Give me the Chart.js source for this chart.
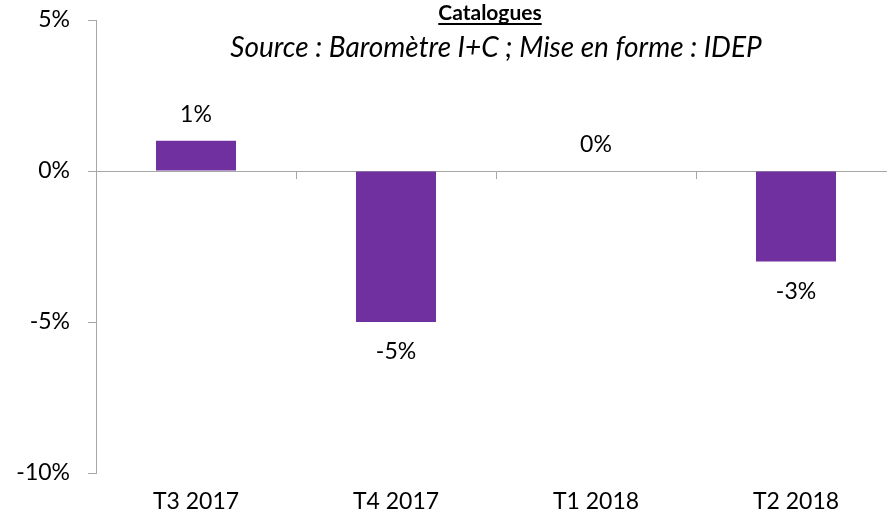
<!DOCTYPE html>
<html>
<head>
<meta charset="utf-8">
<script src="https://cdn.jsdelivr.net/npm/chart.js@4"></script>
<style>
  html, body { margin: 0; padding: 0; background: #fff; overflow: hidden; }
  #wrap { width: 887px; height: 519px; overflow: hidden; }
</style>
</head>
<body>
<div id="wrap"><canvas id="myChart" width="920" height="519"></canvas></div>
<script>
// données
const categories = ['T3 2017', 'T4 2017', 'T1 2018', 'T2 2018'];
const values = [1, -5, 0, -3];
const yTicks = [-10, -5, 0, 5];
const titleText = 'Catalogues';
const subtitleText = 'Source : Baromètre I+C ; Mise en forme : IDEP';

const axisGrey = '#a6a6a6';

Chart.defaults.font.family = 'Lato';
Chart.defaults.font.size = 23;
Chart.defaults.color = '#000';

// étiquettes des barres
const labelPlugin = {
  id: 'barLabels',
  afterDatasetsDraw(chart) {
    const ctx = chart.ctx;
    const meta = chart.getDatasetMeta(0);
    ctx.save();
    ctx.font = '23px Lato';
    ctx.fillStyle = '#000';
    ctx.textAlign = 'center';
    ctx.textBaseline = 'middle';
    meta.data.forEach((bar, i) => {
      const v = values[i];
      const y = v >= 0 ? bar.y - 26 : bar.y + 30;
      ctx.fillText(v + '%', bar.x, y);
    });
    ctx.restore();
  }
};

// titre souligné + source
const titlePlugin = {
  id: 'titles',
  afterDraw(chart) {
    const ctx = chart.ctx;
    ctx.save();
    ctx.fillStyle = '#000';
    ctx.textAlign = 'center';
    ctx.textBaseline = 'alphabetic';
    ctx.font = 'bold 21px Lato';
    ctx.fillText(titleText, 490, 20);
    const w = ctx.measureText(titleText).width;
    ctx.fillRect(490 - w / 2, 23, w, 2);
    ctx.font = 'italic 28px Lato';
    ctx.fillText(subtitleText, 496, 57);
    ctx.restore();
  }
};

const ctx = document.getElementById('myChart').getContext('2d');
const myChart = new Chart(ctx, {
  type: 'bar',
  data: {
    labels: categories,
    datasets: [{
      data: values,
      backgroundColor: '#7030A0',
      barPercentage: 0.4,
      categoryPercentage: 1.0
    }]
  },
  options: {
    responsive: false,
    animation: false,
    layout: { padding: { top: 20, right: 24, left: 0, bottom: 0 } },
    plugins: {
      legend: { display: false },
      tooltip: { enabled: false }
    },
    scales: {
      x: {
        position: 'bottom',
        grid: { display: false, drawTicks: false },
        border: { display: false },
        ticks: { padding: 15 },
        afterFit: s => { s.height = 46; }
      },
      x2: {
        type: 'category',
        labels: categories,
        position: { y: 0 },
        offset: true,
        grid: { offset: true, drawOnChartArea: false, tickLength: 7, color: axisGrey },
        border: { color: axisGrey },
        ticks: { display: false }
      },
      y: {
        min: yTicks[0],
        max: yTicks[yTicks.length - 1],
        ticks: { stepSize: yTicks[1] - yTicks[0], padding: 18, callback: v => v + '%' },
        grid: { drawOnChartArea: false, tickLength: 8, color: axisGrey },
        border: { color: axisGrey },
        afterFit: s => {
          s.width = 96;
          s.paddingTop = 12;
          s.paddingBottom = 12;
        }
      }
    }
  },
  plugins: [labelPlugin, titlePlugin]
});
</script>
</body>
</html>
